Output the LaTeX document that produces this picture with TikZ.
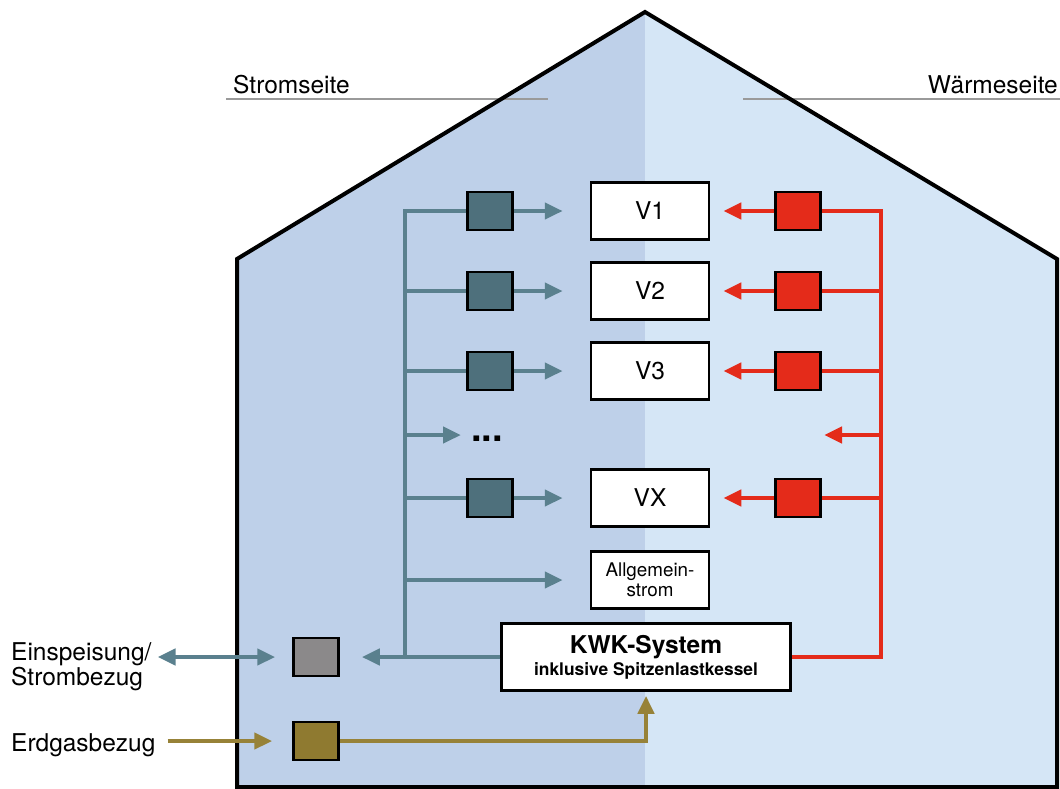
\documentclass[tikz,border=0pt]{standalone}
\usepackage{fontspec}
\setmainfont{TeX Gyre Heros}
\usetikzlibrary{arrows.meta, positioning, calc}
\definecolor{leftblue}{HTML}{BED0E9}
\definecolor{rightblue}{HTML}{D5E6F6}
\definecolor{tealbox}{HTML}{4E707C}
\definecolor{tealline}{HTML}{5A808E}
\definecolor{heatred}{HTML}{E42B1A}
\definecolor{gasgold}{HTML}{8F7A30}
\definecolor{gasline}{HTML}{978238}
\definecolor{netzgray}{HTML}{8B898A}
\definecolor{rulegray}{HTML}{9A9A9A}
\tikzstyle{sidelabel} = [inner sep=0pt, font=\fontsize{24.5}{26}\selectfont]
\tikzstyle{extlabel} = [inner sep=0pt, font=\fontsize{24.5}{20}\selectfont]
\tikzstyle{vbox} = [rectangle, minimum width=118pt, minimum height=57pt, text centered, draw=black, line width=2.5pt, fill=white, font=\fontsize{24.5}{26}\selectfont]
\tikzstyle{kwkbox} = [rectangle, minimum width=289pt, minimum height=67pt, align=center, draw=black, line width=2.5pt, fill=white, font=\bfseries]
\tikzstyle{tealsq} = [rectangle, minimum width=45pt, minimum height=38pt, inner sep=0pt, draw=black, line width=2.5pt, fill=tealbox]
\tikzstyle{heatsq} = [tealsq, fill=heatred]
\tikzstyle{netzsq} = [tealsq, fill=netzgray]
\tikzstyle{gassq} = [tealsq, fill=gasgold]
\tikzstyle{tealwire} = [line width=4.5pt, draw=tealline]
\tikzstyle{heatwire} = [line width=4.5pt, draw=heatred]
\tikzstyle{tealarrow} = [tealwire, -{Triangle[length=18pt, width=16pt]}]
\tikzstyle{tealdbl} = [tealwire, {Triangle[length=18pt, width=16pt]}-{Triangle[length=18pt, width=16pt]}]
\tikzstyle{heatarrow} = [heatwire, -{Triangle[length=18pt, width=16pt]}]
\tikzstyle{gasarrow} = [line width=4.5pt, draw=gasline, -{Triangle[length=18pt, width=16pt]}]

\begin{document}
\begin{tikzpicture}[x=1pt, y=-1pt, node distance=80pt]
    \useasboundingbox (0,0) rectangle (1060,789);
    % house, left and right half
    \fill[leftblue] (237,787) -- (237,259) -- (645,12) -- (645,787) -- cycle;
    \fill[rightblue] (645,12) -- (1057,259) -- (1057,787) -- (645,787) -- cycle;
    \draw[rulegray, line width=2pt] (226,99) -- (548,99);
    \draw[rulegray, line width=2pt] (743,99) -- (1060,99);
    \draw[line width=4pt] (237,787) -- (237,259) -- (645,12) -- (1057,259) -- (1057,787) -- cycle;

    \node (strom) [sidelabel, anchor=base west] at (233,94) {Stromseite};
    \node (waerme) [sidelabel, anchor=base east] at (1058,94) {Wärmeseite};

    % consumers
    \node (v1) [vbox] at (650,211) {V1};
    \node (v2) [vbox, below of=v1] {V2};
    \node (v3) [vbox, below of=v2] {V3};
    \node (vx) [vbox, below of=v3, yshift=-47pt] {VX};
    \node (allg) [vbox, below of=vx, yshift=-2pt, align=center, font=\fontsize{18.8}{20}\selectfont] {Allgemein-\\strom};
    \node (dots) [inner sep=0pt, font=\fontsize{38}{38}\selectfont\bfseries] at (487,439) {...};

    \node (sq1) [tealsq, left of=v1, xshift=-80pt] {};
    \node (sq2) [tealsq, left of=v2, xshift=-80pt] {};
    \node (sq3) [tealsq, left of=v3, xshift=-80pt] {};
    \node (sqx) [tealsq, left of=vx, xshift=-80pt] {};
    \node (rh1) [heatsq, right of=v1, xshift=68pt] {};
    \node (rh2) [heatsq, right of=v2, xshift=68pt] {};
    \node (rh3) [heatsq, right of=v3, xshift=68pt] {};
    \node (rhx) [heatsq, right of=vx, xshift=68pt] {};

    \node (kwk) [kwkbox] at (646,657) {{\fontsize{24.5}{24}\selectfont KWK-System}\\[3pt]{\fontsize{17.4}{20}\selectfont inklusive Spitzenlastkessel}};
    \node (netz) [netzsq] at (316,657) {};
    \node (gas) [gassq] at (316,741) {};
    \node (einsp) [extlabel, anchor=west, align=left] at (11,667) {Einspeisung/\\Strombezug};
    \node (erdgas) [extlabel, anchor=west] at (11,745) {Erdgasbezug};

    \coordinate (tbase) at (405,657);
    \coordinate (hbase) at (881,657);
    \coordinate (dotend) at (461,435);
    \coordinate (heatdot) at (824,435);

    % power side
    \draw [tealwire] (sq1) -| (tbase);
    \foreach \v in {2,3,x}
        \draw [tealwire] (sq\v -| tbase) -- (sq\v);
    \foreach \v in {1,2,3,x}
        \draw [tealarrow, shorten >=27pt] (sq\v) -- (v\v);
    \draw [tealarrow] (tbase |- dotend) -- (dotend);
    \draw [tealarrow, shorten >=27pt] (allg -| tbase) -- (allg);
    \draw [tealarrow, shorten >=22pt] (kwk) -- (netz);
    \draw [tealdbl, shorten <=6pt, shorten >=17pt] (einsp.east |- netz) -- (netz);

    % heat side
    \draw [heatwire] (kwk) -- (hbase) |- (rh1);
    \foreach \v in {2,3,x}
        \draw [heatwire] (rh\v -| hbase) -- (rh\v);
    \foreach \v in {1,2,3,x}
        \draw [heatarrow, shorten >=13pt] (rh\v) -- (v\v);
    \draw [heatarrow] (hbase |- heatdot) -- (heatdot);

    % gas
    \draw [gasarrow, shorten <=12pt, shorten >=20pt] (erdgas.east |- gas) -- (gas);
    \draw [gasarrow, shorten >=4pt] (gas) -| (kwk);
\end{tikzpicture}
\end{document}
